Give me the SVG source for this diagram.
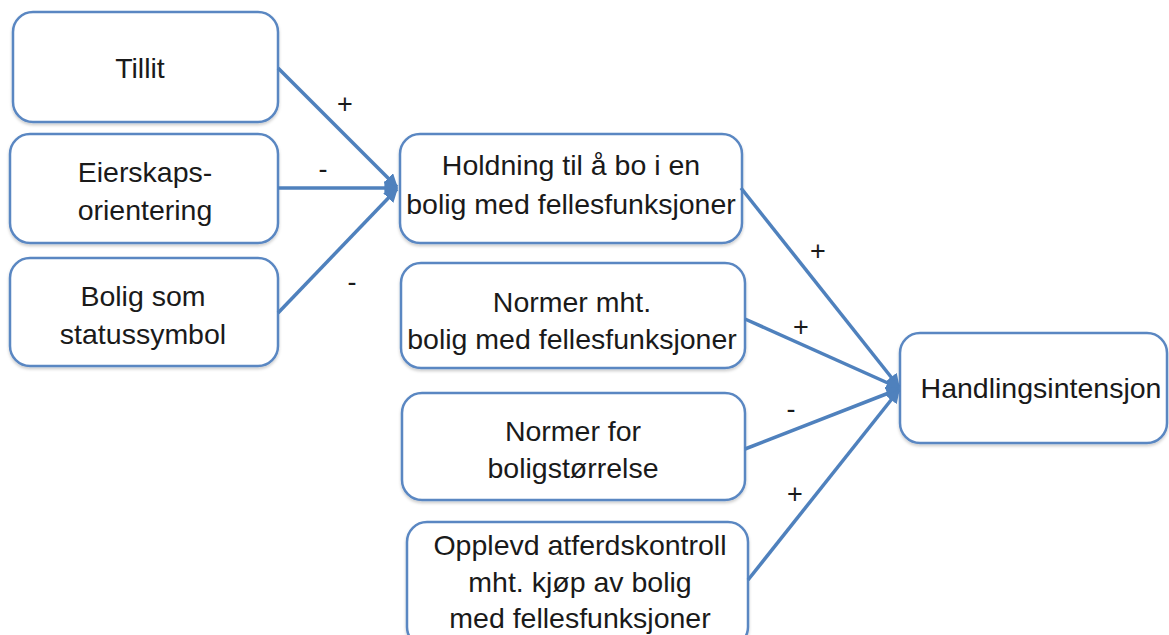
<svg xmlns="http://www.w3.org/2000/svg" width="1169" height="635" viewBox="0 0 1169 635">
<defs>
<marker id="ah" viewBox="0 0 10 10" refX="9" refY="5" markerWidth="4" markerHeight="4" orient="auto" markerUnits="strokeWidth">
<path d="M0,0 L10,5 L0,10 z" fill="#4f81bd"/>
</marker>
<filter id="sh" x="-5%" y="-5%" width="110%" height="115%">
<feDropShadow dx="0" dy="2" stdDeviation="1.5" flood-color="#000" flood-opacity="0.2"/>
</filter>
</defs>
<style>
.box{fill:#fff;stroke:#5a87c2;stroke-width:2.5;filter:url(#sh)}
.t{font-family:"Liberation Sans",Arial,sans-serif;font-size:28.5px;fill:#1a1a1a;text-anchor:middle}
.s{font-family:"Liberation Sans",Arial,sans-serif;font-size:27px;fill:#1a1a1a;text-anchor:middle}
.c{fill:none;stroke:#4f81bd;stroke-width:3.5;marker-end:url(#ah)}
</style>
<rect width="1169" height="635" fill="#fff"/>
<g id="n-tillit"><rect class="box" x="13" y="12" width="265" height="110" rx="20"/><text class="t" x="140" y="78">Tillit</text></g>
<g id="n-eierskap"><rect class="box" x="10" y="134" width="268" height="109" rx="20"/><text class="t" x="145" y="182">Eierskaps-</text><text class="t" x="145" y="220">orientering</text></g>
<g id="n-status"><rect class="box" x="10" y="258" width="268" height="108" rx="20"/><text class="t" x="143" y="306">Bolig som</text><text class="t" x="143" y="344">statussymbol</text></g>
<g id="n-holdning"><rect class="box" x="400" y="134" width="342" height="109" rx="20"/><text class="t" x="571" y="175">Holdning til å bo i en</text><text class="t" x="571" y="214">bolig med fellesfunksjoner</text></g>
<g id="n-normer1"><rect class="box" x="401" y="263" width="344" height="105" rx="20"/><text class="t" x="572" y="312">Normer mht.</text><text class="t" x="572" y="349">bolig med fellesfunksjoner</text></g>
<g id="n-normer2"><rect class="box" x="402" y="393" width="343" height="107" rx="20"/><text class="t" x="573" y="441">Normer for</text><text class="t" x="573" y="478">boligstørrelse</text></g>
<g id="n-opplevd"><rect class="box" x="407" y="522" width="341" height="125" rx="20"/><text class="t" x="580" y="555">Opplevd atferdskontroll</text><text class="t" x="580" y="592">mht. kjøp av bolig</text><text class="t" x="580" y="628">med fellesfunksjoner</text></g>
<g id="n-handling"><rect class="box" x="900" y="333" width="267" height="110" rx="20"/><text class="t" x="1041" y="398">Handlingsintensjon</text></g>
<g id="connectors">
<line class="c" x1="278" y1="68" x2="397" y2="187"/>
<line class="c" x1="278" y1="188" x2="397" y2="188"/>
<line class="c" x1="278" y1="313" x2="397" y2="189"/>
<line class="c" x1="741" y1="188" x2="899" y2="387"/>
<line class="c" x1="745" y1="319" x2="899" y2="388"/>
<line class="c" x1="745" y1="449" x2="899" y2="389"/>
<line class="c" x1="748" y1="580" x2="899" y2="390"/>
<text class="s" x="345" y="113">+</text>
<text class="s" x="323" y="178">-</text>
<text class="s" x="352" y="291">-</text>
<text class="s" x="818" y="260">+</text>
<text class="s" x="801" y="336">+</text>
<text class="s" x="791" y="418">-</text>
<text class="s" x="795" y="503">+</text>
</g>
</svg>
